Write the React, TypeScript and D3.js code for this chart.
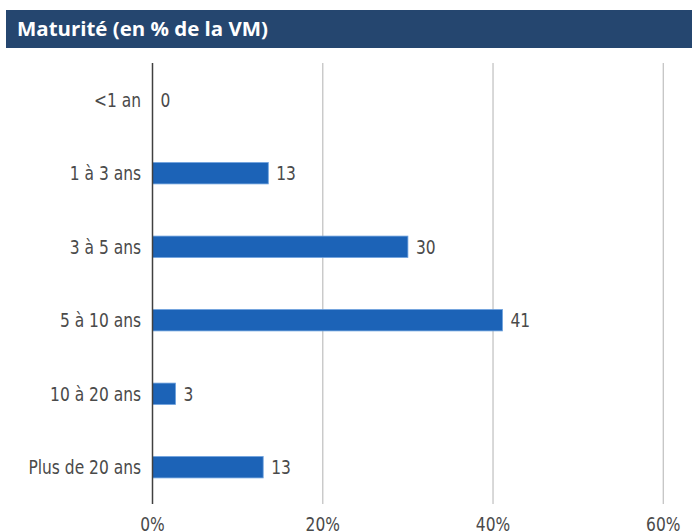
import React from 'react'
import * as d3 from 'd3'

const title = 'Maturité (en % de la VM)'
const categories = ['<1 an', '1 à 3 ans', '3 à 5 ans', '5 à 10 ans', '10 à 20 ans', 'Plus de 20 ans']
const values = [0, 13.6, 30, 41.1, 2.7, 13]
const valueLabels = ['0', '13', '30', '41', '3', '13']
const ticks = [0, 20, 40, 60]

const font = '"DejaVu Sans Condensed", "DejaVu Sans", sans-serif'
const squeeze = 0.86

function Label({ x, y, anchor = 'start', children }: { x: number; y: number; anchor?: string; children: React.ReactNode }) {
  return (
    <text
      transform={`translate(${x},${y}) scale(${squeeze},1)`}
      textAnchor={anchor}
      fontSize={20}
      fill="#4a4a4a"
      fontFamily={font}
    >
      {children}
    </text>
  )
}

export default function App() {
  const width = 692
  const height = 531
  const top = 63
  const bottom = 504

  const x = d3.scaleLinear().domain([0, 60]).range([152.5, 663.3])
  const y = d3.scaleBand<string>().domain(categories).range([top, bottom]).paddingInner(0.71).paddingOuter(0.355)

  return (
    <svg width={width} height={height} style={{ position: 'absolute', left: 0, top: 0 }}>
      <rect width={width} height={height} fill="#fff" />
      {/* header */}
      <rect x={6} y={10} width={width - 6} height={38} fill="#25466f" />
      <text x={17} y={36} fill="#fff" fontSize={20} fontWeight="bold" fontFamily={'"Open Sans", sans-serif'} textLength={251} lengthAdjust="spacingAndGlyphs">
        {title}
      </text>

      {/* grid */}
      {ticks.slice(1).map(t => (
        <line key={t} x1={x(t)} x2={x(t)} y1={top} y2={bottom} stroke="#c4c4c4" strokeWidth={1.3} />
      ))}

      {/* bars */}
      {categories.map((c, i) => {
        const yc = y(c)! + y.bandwidth() / 2 + 7
        return (
          <g key={c}>
            {values[i] > 0 && (
              <rect
                x={x(0)}
                y={y(c)!}
                width={x(values[i]) - x(0)}
                height={y.bandwidth()}
                fill="#1c63b7"
                stroke="#6a9fdc"
                strokeWidth={0.8}
              />
            )}
            <Label x={x(values[i]) + 8} y={yc}>{valueLabels[i]}</Label>
            <Label x={141} y={yc} anchor="end">{c}</Label>
          </g>
        )
      })}

      {/* axis line */}
      <line x1={x(0)} x2={x(0)} y1={top} y2={bottom} stroke="#404040" strokeWidth={1.5} />

      {/* tick labels */}
      {ticks.map(t => (
        <Label key={t} x={x(t)} y={531} anchor="middle">{t}%</Label>
      ))}
    </svg>
  )
}
